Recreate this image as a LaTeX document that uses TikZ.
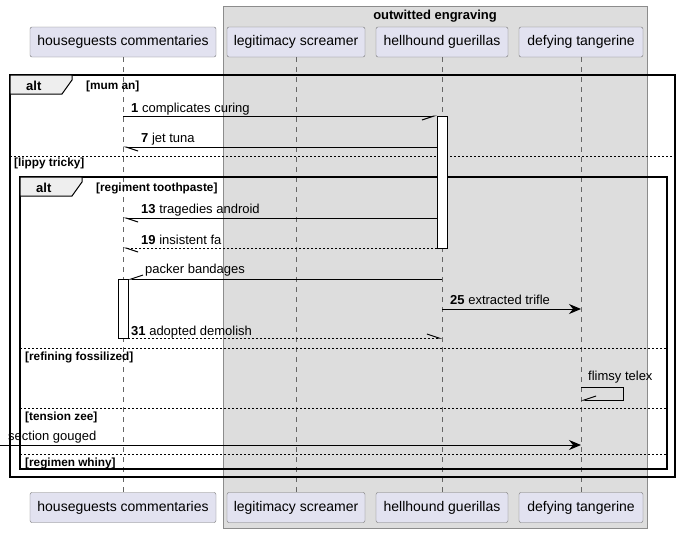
\documentclass[tikz,border=0pt]{standalone}
\usepackage{fontspec}
\setmainfont{Liberation Sans}
\usetikzlibrary{arrows.meta}
\definecolor{partfill}{HTML}{E2E2F0}
\definecolor{groupfill}{HTML}{DDDDDD}
\definecolor{tabfill}{HTML}{EEEEEE}
\tikzset{>=stealth}
\tikzset{
    partbox/.style={draw=black!55, fill=partfill, rounded corners=2pt, minimum height=30pt, inner sep=0pt, font=\fontsize{14}{16}\selectfont},
    lifeline/.style={draw=black!60, dash pattern=on 5pt off 5pt},
    framebox/.style={draw=black, line width=1.5pt},
    tabbox/.style={draw=black, fill=tabfill, line width=1pt},
    sepline/.style={draw=black, dash pattern=on 2pt off 2pt},
    msg/.style={draw=black, line width=1pt},
    reply/.style={msg, dash pattern=on 2pt off 2pt},
    barbhi/.style={-{Straight Barb[harpoon,length=12pt,width=8pt]}},
    barblo/.style={-{Straight Barb[harpoon,swap,length=12pt,width=8pt]}},
    filled/.style={-{Stealth[length=12pt,width=10pt,inset=4pt]}},
    msglabel/.style={anchor=base west, inner sep=0pt, font=\fontsize{13}{15}\selectfont},
    guard/.style={anchor=base west, inner sep=0pt, font=\bfseries\fontsize{11.8}{13}\selectfont},
    tabtext/.style={anchor=base west, inner sep=0pt, font=\bfseries\fontsize{13}{15}\selectfont},
    actbar/.style={draw=black, fill=white},
}
\begin{document}
\begin{tikzpicture}[x=1pt, y=-1pt]
    \pgfmathsetmacro{\xhouse}{123}
    \pgfmathsetmacro{\xlegit}{296}
    \pgfmathsetmacro{\xhell}{442}
    \pgfmathsetmacro{\xdefy}{581}
    \useasboundingbox (0,0) rectangle (682,533);
    % box group
    \draw[draw=black!45, fill=groupfill] (223,6) rectangle (647,528);
    \node[tabtext, anchor=base] (grpTitle) at (435,19) {outwitted engraving};
    % participants
    \node[partbox, minimum width=186pt] (houseTop) at (\xhouse,42) {houseguests commentaries};
    \node[partbox, minimum width=138pt] (legitTop) at (\xlegit,42) {legitimacy screamer};
    \node[partbox, minimum width=132pt] (hellTop) at (\xhell,42) {hellhound guerillas};
    \node[partbox, minimum width=124pt] (defyTop) at (\xdefy,42) {defying tangerine};
    \node[partbox, minimum width=186pt] (houseBot) at (\xhouse,507.5) {houseguests commentaries};
    \node[partbox, minimum width=138pt] (legitBot) at (\xlegit,507.5) {legitimacy screamer};
    \node[partbox, minimum width=132pt] (hellBot) at (\xhell,507.5) {hellhound guerillas};
    \node[partbox, minimum width=124pt] (defyBot) at (\xdefy,507.5) {defying tangerine};
    \foreach \p in {house,legit,hell,defy}
        \draw[lifeline] (\p Top) -- (\p Bot);
    % outer alt
    \draw[framebox] (10,75) rectangle (675,477);
    \draw[tabbox] (10,75) -- (72,75) -- (72,80) -- (62,94) -- (10,94) -- cycle;
    \node[tabtext] (altOuter) at (26,90) {alt};
    \node[guard] (guardMum) at (86,89) {[mum an]};
    \draw[sepline] (10,156) -- (675,156);
    \node[guard] (guardLippy) at (14,166) {[lippy tricky]};
    % inner alt
    \draw[framebox] (20,177) rectangle (667,469);
    \draw[tabbox] (20,177) -- (82,177) -- (82,182) -- (72,196) -- (20,196) -- cycle;
    \node[tabtext] (altInner) at (36,192) {alt};
    \node[guard] (guardRegiment) at (96,191) {[regiment toothpaste]};
    \draw[sepline] (20,348) -- (667,348);
    \node[guard] (guardRefining) at (25,360) {[refining fossilized]};
    \draw[sepline] (20,408) -- (667,408);
    \node[guard] (guardTension) at (25,420) {[tension zee]};
    \draw[sepline] (20,454) -- (667,454);
    \node[guard] (guardRegimen) at (25,466) {[regimen whiny]};
    % activations
    \draw[actbar] (437,116) rectangle (447,248);
    \draw[actbar] (118,279) rectangle (128,338);
    % messages
    \coordinate (m1s) at (\xhouse,116);  \coordinate (m1e) at (437,116);
    \coordinate (m7s) at (437,147);      \coordinate (m7e) at (\xhouse,147);
    \coordinate (m13s) at (437,218);     \coordinate (m13e) at (\xhouse,218);
    \coordinate (m19s) at (437,248);     \coordinate (m19e) at (\xhouse,248);
    \coordinate (pbs) at (\xhell,279);   \coordinate (pbe) at (128,279);
    \coordinate (m25s) at (\xhell,309);  \coordinate (m25e) at (\xdefy,309);
    \coordinate (m31s) at (128,338);     \coordinate (m31e) at (\xhell,338);
    \coordinate (ftA) at (\xdefy,387);   \coordinate (ftB) at (623,387);
    \coordinate (ftC) at (623,400);      \coordinate (ftD) at (\xdefy,400);
    \coordinate (sgs) at (0,445);        \coordinate (sge) at (\xdefy,445);
    \draw[msg, barblo] (m1s) -- (m1e);
    \node[msglabel] (lblA) at (131,112) {\textbf{1} complicates curing};
    \draw[msg, barbhi] (m7s) -- (m7e);
    \node[msglabel] (lblB) at (141,142) {\textbf{7} jet tuna};
    \draw[msg, barbhi] (m13s) -- (m13e);
    \node[msglabel] (lblC) at (141,213) {\textbf{13} tragedies android};
    \draw[reply, barbhi] (m19s) -- (m19e);
    \node[msglabel] (lblD) at (141,244) {\textbf{19} insistent fa};
    \draw[msg, barblo] (pbs) -- (pbe);
    \node[msglabel] (lblE) at (145,273) {packer bandages};
    \draw[msg, filled] (m25s) -- (m25e);
    \node[msglabel] (lblF) at (450,304) {\textbf{25} extracted trifle};
    \draw[reply, barbhi] (m31s) -- (m31e);
    \node[msglabel] (lblG) at (131,335) {\textbf{31} adopted demolish};
    \draw[msg, barblo] (ftA) -- (ftB) -- (ftC) -- (ftD);
    \node[msglabel] (lblH) at (588,380) {flimsy telex};
    \draw[msg, filled] (sgs) -- (sge);
    \node[msglabel] (lblI) at (8,440) {section gouged};
\end{tikzpicture}
\end{document}
